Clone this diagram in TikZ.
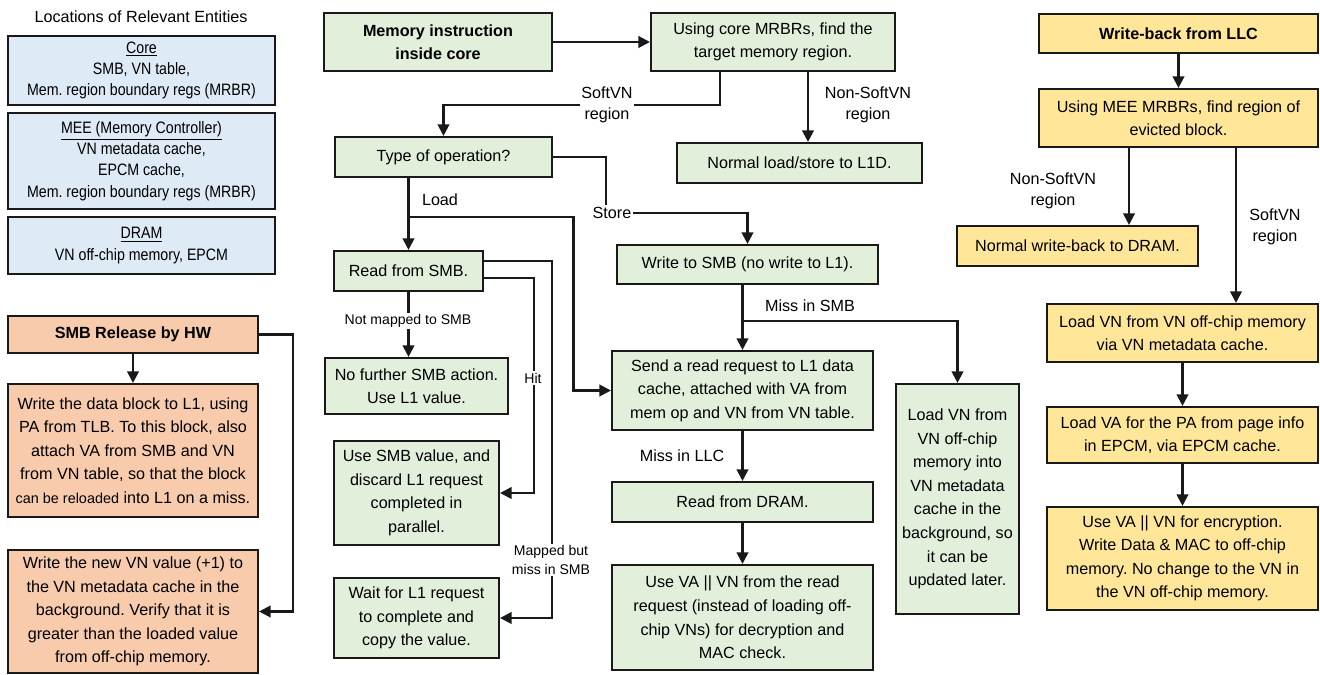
\documentclass[tikz,border=0pt]{standalone}
\usepackage{fontspec}
\setmainfont{Liberation Sans}
\newfontfamily\narrowfont[FakeStretch=0.86]{Liberation Sans}
\usetikzlibrary{arrows.meta}

\definecolor{boxgreen}{HTML}{E2EFDA}
\definecolor{boxblue}{HTML}{DEEBF7}
\definecolor{boxpeach}{HTML}{F8CBAD}
\definecolor{boxyellow}{HTML}{FFE699}

\frenchspacing
\begin{document}
\begin{tikzpicture}[x=0.02cm, y=-0.02cm,
  font=\fontsize{9.2}{13.4}\selectfont,
  box/.style={draw=black!90, line width=1.2pt, align=center, inner sep=1pt},
  grnbox/.style={box, fill=boxgreen},
  blubox/.style={box, fill=boxblue, font=\narrowfont\fontsize{9.4}{12.2}\selectfont},
  pchbox/.style={box, fill=boxpeach},
  ylwbox/.style={box, fill=boxyellow},
  arr/.style={draw=black!90, line width=1.2pt, -{Triangle[length=2.3mm, width=2.3mm]}},
  wire/.style={draw=black!90, line width=1.2pt},
  lbl/.style={fill=white, inner sep=1pt, align=center, font=\fontsize{9.2}{12}\selectfont},
  smalllbl/.style={lbl, font=\fontsize{8}{10.5}\selectfont}]
\useasboundingbox (0,0) rectangle (1320,675);

% locations of entities
\node (title) at (141,17) {Locations of Relevant Entities};
\node[blubox, minimum width=5.34cm, minimum height=1.38cm] (core) at (141.5,70.5)
  {\underline{Core}\\SMB, VN table,\\Mem. region boundary regs (MRBR)};
\node[blubox, minimum width=5.34cm, minimum height=1.92cm] (mee) at (141.5,161)
  {\underline{MEE (Memory Controller)}\\VN metadata cache,\\EPCM cache,\\Mem. region boundary regs (MRBR)};
\node[blubox, minimum width=5.34cm, minimum height=1.14cm] (dram) at (141.5,245.5)
  {\underline{DRAM}\\VN off-chip memory, EPCM};

% SMB release
\node[pchbox, minimum width=5cm, minimum height=0.74cm] (release) at (133,334.5) {\textbf{SMB Release by HW}};
\node[pchbox, minimum width=5cm, minimum height=2.66cm] (l1write) at (133,450.5)
  {Write the data block to L1, using\\PA from TLB. To this block, also\\attach VA from SMB and VN\\from VN table, so that the block\\{\fontsize{8.2}{13.4}\selectfont can be reloaded} into L1 on a miss.};
\node[pchbox, minimum width=5cm, minimum height=2.46cm] (newvn) at (133,611.5)
  {Write the new VN value (+1) to\\the VN metadata cache in the\\background. Verify that it is\\greater than the loaded value\\from off-chip memory.};

\draw[arr] (release.south) -- (l1write.north);
\draw[arr] (release.east) -- ++(34,0) |- (newvn.east);

% memory instruction in core
\node[grnbox, minimum width=4.56cm, minimum height=1.16cm] (meminst) at (438,42) {\textbf{Memory instruction}\\\textbf{inside core}};
\node[grnbox, minimum width=4.88cm, minimum height=1.16cm] (coremrbr) at (773,42) {Using core MRBRs, find the\\target memory region.};
\node[grnbox, minimum width=4.9cm, minimum height=0.8cm] (normal) at (799.5,163) {Normal load/store to L1D.};
\node[grnbox, minimum width=4.34cm, minimum height=0.8cm] (optype) at (443.5,157) {Type of operation?};
\node[grnbox, minimum width=2.98cm, minimum height=0.8cm] (readsmb) at (408.5,271) {Read from SMB.};
\node[grnbox, minimum width=3.66cm, minimum height=1.12cm] (nofurther) at (416.5,386) {No further SMB action.\\Use L1 value.};
\node[grnbox, minimum width=3.3cm, minimum height=2.08cm] (usesmb) at (416.5,493) {Use SMB value, and\\discard L1 request\\completed in\\parallel.};
\node[grnbox, minimum width=3.3cm, minimum height=1.6cm] (waitl1) at (416.5,618) {Wait for L1 request\\to complete and\\copy the value.};
\node[grnbox, minimum width=5.22cm, minimum height=0.78cm] (writesmb) at (747.5,264.5) {Write to SMB (no write to L1).};
\node[grnbox, minimum width=5.22cm, minimum height=1.58cm] (sendreq) at (742.5,390.5) {Send a read request to L1 data\\cache, attached with VA from\\mem op and VN from VN table.};
\node[grnbox, minimum width=5.22cm, minimum height=0.8cm] (readdram) at (742.5,502) {Read from DRAM.};
\node[grnbox, minimum width=5.22cm, minimum height=2.1cm] (usevavn) at (742.5,617.5) {Use VA || VN from the read\\request (instead of loading off-\\chip VNs) for decryption and\\MAC check.};
\node[grnbox, minimum width=2.46cm, minimum height=4.6cm] (loadvnbg) at (957.5,499) {Load VN from\\VN off-chip\\memory into\\VN metadata\\cache in the\\background, so\\it can be\\updated later.};

\node[lbl] (store) at (612,213) {Store};
\coordinate (loadfork) at (408.5,217);
\coordinate (smbfork) at (742.5,321);

\draw[arr] (meminst.east) -- (coremrbr.west);
\draw[arr] ([xshift=-1.06cm]coremrbr.south) -- ++(0,33) -| (optype.north);
\draw[arr] ([xshift=0.7cm]coremrbr.south) -- ([xshift=0.7cm]coremrbr.south |- normal.north);
\draw[wire] (optype.east) -| ([xshift=-0.12cm]store.north);
\draw[arr] (store.east) -| (writesmb.north);
\draw[arr] (optype.south -| readsmb.north) -- (readsmb.north);
\draw[arr] (loadfork) -- ++(165,0) |- (sendreq.west);
\draw[arr] ([yshift=0.2cm]readsmb.east) -- ++(68,0) |- (waitl1.east);
\draw[arr] ([yshift=-0.14cm]readsmb.east) -- ++(50,0) |- (usesmb.east);
\draw[arr] (readsmb.south) -- (readsmb.south |- nofurther.north);
\draw[arr] (sendreq.north |- writesmb.south) -- (sendreq.north);
\draw[arr] (smbfork) -| (loadvnbg.north);
\draw[arr] (sendreq.south) -- (readdram.north);
\draw[arr] (readdram.south) -- (usevavn.north);

\node[lbl] (softvnlbl) at (607,105) {SoftVN\\region};
\node[lbl] (nonsoftlbl) at (868,105) {Non-SoftVN\\region};
\node[lbl] (loadlbl) at (440,200) {Load};
\node[smalllbl] (notmapped) at (408,321) {Not mapped to SMB};
\node[smalllbl] (hitlbl) at (533,378) {Hit};
\node[smalllbl] (mappedlbl) at (551,560) {Mapped but\\miss in SMB};
\node[lbl] (misssmb) at (810,306) {Miss in SMB};
\node[lbl] (missllc) at (682,456) {Miss in LLC};

% write-back from LLC
\node[ylwbox, minimum width=5.58cm, minimum height=0.78cm] (wbllc) at (1178.5,33.5) {\textbf{Write-back from LLC}};
\node[ylwbox, minimum width=5.58cm, minimum height=1.16cm] (meemrbr) at (1178.5,118) {Using MEE MRBRs, find region of\\evicted block.};
\node[ylwbox, minimum width=4.82cm, minimum height=0.8cm] (normalwb) at (1077.5,246) {Normal write-back to DRAM.};
\node[ylwbox, minimum width=5.42cm, minimum height=1.16cm] (loadvn) at (1182.5,333) {Load VN from VN off-chip memory\\via VN metadata cache.};
\node[ylwbox, minimum width=5.42cm, minimum height=1.12cm] (loadva) at (1182.5,435) {Load VA for the PA from page info\\in EPCM, via EPCM cache.};
\node[ylwbox, minimum width=5.42cm, minimum height=2.06cm] (encrypt) at (1182.5,558.5) {Use VA || VN for encryption.\\Write Data \& MAC to off-chip\\memory. No change to the VN in\\the VN off-chip memory.};

\draw[arr] (wbllc.south) -- (meemrbr.north);
\draw[arr] ([xshift=-0.99cm]meemrbr.south) -- ([xshift=-0.99cm]meemrbr.south |- normalwb.north);
\draw[arr] ([xshift=1.15cm]meemrbr.south) -- ([xshift=1.15cm]meemrbr.south |- loadvn.north);
\draw[arr] (loadvn.south) -- (loadva.north);
\draw[arr] (loadva.south) -- (encrypt.north);

\node[lbl] (nonsoftwb) at (1053,191) {Non-SoftVN\\region};
\node[lbl] (softwb) at (1275,227) {SoftVN\\region};
\end{tikzpicture}
\end{document}
